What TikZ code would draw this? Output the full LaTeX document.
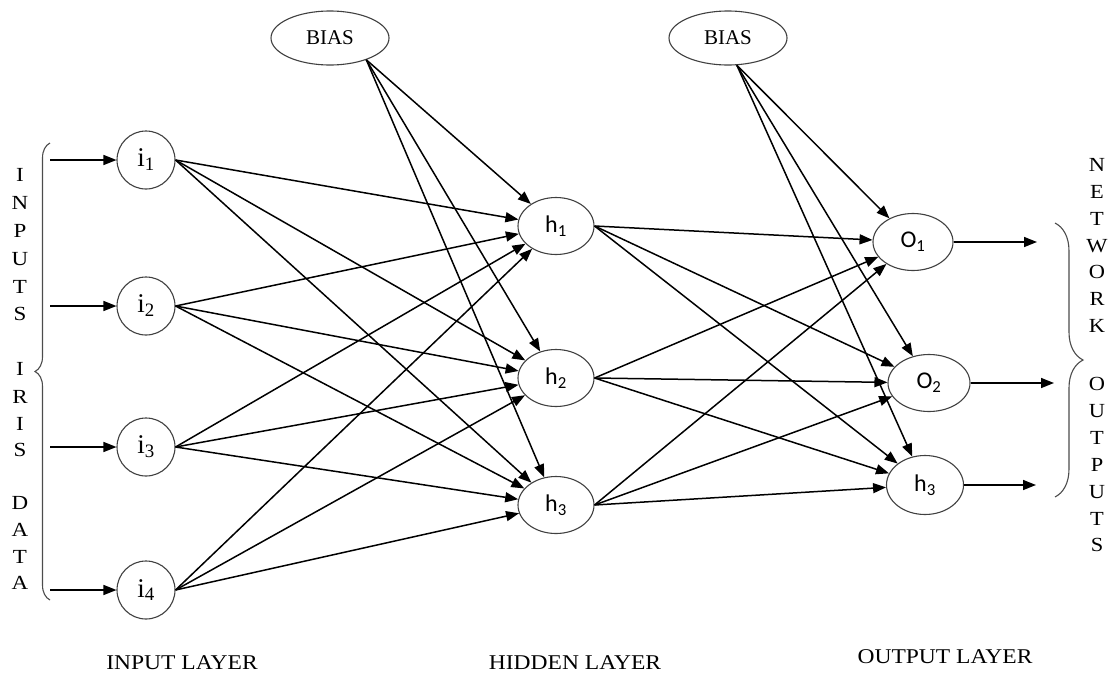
\documentclass[tikz,border=0pt]{standalone}
\usepackage{fontspec}
\usepackage{graphicx}
\setmainfont{Liberation Serif}
\newfontfamily\labsans{Carlito}
\usetikzlibrary{arrows.meta,shapes.geometric,decorations.pathreplacing}
\begin{document}
\begin{tikzpicture}[x=1pt,y=-1pt,
  inunit/.style={circle,draw=black!75,line width=1.1pt,minimum size=58pt,inner sep=0pt,
    font=\fontsize{27}{27}\selectfont},
  hunit/.style={ellipse,draw=black!75,line width=1.1pt,minimum width=76pt,minimum height=57pt,
    inner sep=0pt,font=\labsans\fontsize{24}{24}\selectfont},
  biasunit/.style={ellipse,draw=black!75,line width=1.1pt,minimum width=118pt,minimum height=54pt,
    inner sep=0pt,font=\fontsize{21}{21}\selectfont},
  link/.style={line width=1.5pt,-{Triangle[length=13pt,width=10pt]}},
  brace/.style={draw=black!70,line width=1.1pt,decorate,decoration={brace,amplitude=#1}},
  letter/.style={font=\fontsize{20}{20}\selectfont,inner sep=0pt},
  caption/.style={font=\fontsize{21}{21}\selectfont,inner sep=0pt}]
\useasboundingbox (0,0) rectangle (1112,675);

% input layer
\node[inunit] (i1) at (146,160) {i\textsubscript{1}};
\node[inunit] (i2) at (146,306) {i\textsubscript{2}};
\node[inunit] (i3) at (146,447) {i\textsubscript{3}};
\node[inunit] (i4) at (146,590) {i\textsubscript{4}};

% hidden layer
\node[hunit] (h1) at (556,226) {h\textsubscript{1}};
\node[hunit] (h2) at (556,378) {h\textsubscript{2}};
\node[hunit] (h3) at (556,505) {h\textsubscript{3}};

% output layer
\node[hunit,minimum width=80pt] (o1) at (913,242) {O\textsubscript{1}};
\node[hunit,minimum width=82pt] (o2) at (929,383) {O\textsubscript{2}};
\node[hunit,minimum width=77pt,minimum height=59pt] (o3) at (925,485) {h\textsubscript{3}};

% bias units
\node[biasunit] (b1) at (330,38) {BIAS};
\node[biasunit] (b2) at (728,38) {BIAS};

% external inputs and outputs
\foreach \k in {1,...,4} {
  \coordinate (src\k) at (50,0 |- i\k);
  \draw[link] (src\k) -- (i\k);
}
\coordinate (dst1) at (1037,0 |- o1);
\coordinate (dst2) at (1054,0 |- o2);
\coordinate (dst3) at (1036,0 |- o3);
\foreach \k in {1,2,3} \draw[link] (o\k) -- (dst\k);

% input -> hidden
\foreach \a in {1,...,4}
  \foreach \b in {1,2,3}
    \draw[link] (i\a.east) -- (h\b);

% hidden -> output
\foreach \a in {1,2,3}
  \foreach \b in {1,2,3}
    \draw[link] (h\a.east) -- (o\b);

% bias connections
\foreach \b in {1,2,3} \draw[link] (b1.-31) -- (h\b);
\foreach \b in {1,2,3} \draw[link] (b2.-72) -- (o\b);

% braces
\coordinate (lbtop) at (50,143);
\coordinate (lbbot) at (50,600);
\draw[brace=15pt] (lbbot) -- (lbtop);
\coordinate (rbtop) at (1055,223);
\coordinate (rbbot) at (1055,497);
\draw[brace=28pt] (rbtop) -- (rbbot);

% vertical captions
\foreach \t/\y [count=\n] in {I/175,N/203,P/231,U/259,T/287,S/314,I/369,R/397,I/424,S/450,D/503,A/530,T/557,A/583}
  \node[letter] (lt\n) at (20,\y) {\scalebox{1.15}[1]{\t}};
\foreach \t/\y [count=\n] in {N/165,E/192,T/219,W/246,O/272,R/299,K/326,O/384,U/411,T/438,P/465,U/492,T/519,S/545}
  \node[letter] (rt\n) at (1097,\y) {\scalebox{1.12}[1]{\t}};

% layer captions
\node[caption] (capin) at (182,663) {\scalebox{1.12}[1]{INPUT LAYER}};
\node[caption] (caphid) at (575,663) {\scalebox{1.12}[1]{HIDDEN LAYER}};
\node[caption] (capout) at (945,657) {\scalebox{1.12}[1]{OUTPUT LAYER}};
\end{tikzpicture}
\end{document}
